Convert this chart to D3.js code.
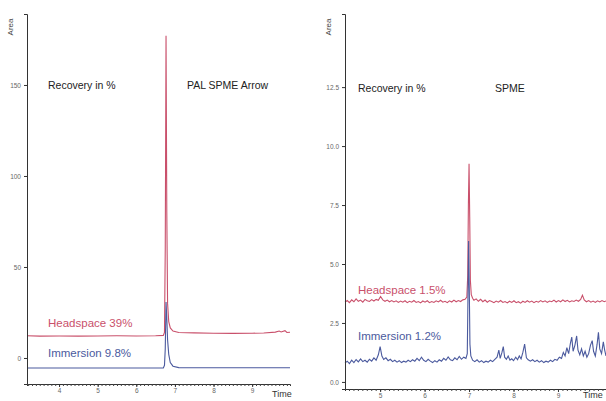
<!DOCTYPE html>
<html><head><meta charset="utf-8">
<script src="https://cdn.jsdelivr.net/npm/d3@7"></script>
<style>body{margin:0;background:#fff}svg{display:block}text{font-family:"Liberation Sans",Arial,sans-serif}</style>
</head><body><svg id="c" width="606" height="401"></svg>
<script>
// ---- data ----
const leftYTicks = [0, 50, 100, 150];
const leftXTicks = [4, 5, 6, 7, 8, 9];
const rightYTicks = [0, 2.5, 5, 7.5, 10, 12.5];
const rightXTicks = [5, 6, 7, 8, 9];
const rightYTickLabels = ["0.0","2.5","5.0","7.5","10.0","12.5"];

const leftHeadspace = [[3.17,12.2],[3.5,12.0],[4.0,12.1],[4.5,12.0],[5.0,12.1],[5.5,12.2],[6.0,12.1],[6.5,12.2],[6.70,12.4],[6.73,14],[6.75,60],[6.77,177],[6.79,80],[6.81,30],[6.84,20],[6.88,16.5],[6.95,14.8],[7.1,14.0],[7.5,13.8],[8.0,13.6],[8.5,13.5],[9.0,13.6],[9.3,13.7],[9.6,14.2],[9.7,14.8],[9.75,14.3],[9.85,15.0],[9.9,14.0],[9.98,14.1]];
const leftImmersion = [[3.17,-5.5],[6.70,-5.5],[6.73,-4],[6.75,5],[6.77,30.8],[6.79,22],[6.81,10],[6.84,2],[6.88,-2.5],[6.95,-4.5],[7.1,-5.3],[9.98,-5.4]];

const rightHeadspace = [[4.21,3.38],[4.26,3.45],[4.31,3.36],[4.36,3.48],[4.41,3.40],[4.46,3.52],[4.51,3.42],[4.56,3.47],[4.61,3.38],[4.66,3.50],[4.71,3.44],[4.76,3.41],[4.81,3.49],[4.86,3.43],[4.91,3.50],[4.96,3.46],[5.01,3.62],[5.06,3.48],[5.11,3.42],[5.16,3.47],[5.21,3.40],[5.26,3.45],[5.31,3.39],[5.36,3.44],[5.41,3.37],[5.46,3.43],[5.51,3.38],[5.56,3.44],[5.61,3.36],[5.66,3.42],[5.71,3.38],[5.76,3.45],[5.81,3.37],[5.86,3.41],[5.91,3.35],[5.96,3.43],[6.01,3.38],[6.06,3.44],[6.11,3.36],[6.16,3.41],[6.21,3.37],[6.26,3.44],[6.31,3.39],[6.36,3.46],[6.41,3.38],[6.46,3.42],[6.51,3.36],[6.56,3.44],[6.61,3.39],[6.66,3.47],[6.71,3.40],[6.76,3.45],[6.81,3.41],[6.86,3.48],[6.91,3.50],[6.95,3.60],[6.97,4.5],[6.985,7.5],[7.00,9.25],[7.015,7.0],[7.03,4.3],[7.05,3.70],[7.08,3.55],[7.11,3.46],[7.16,3.52],[7.21,3.42],[7.26,3.50],[7.31,3.40],[7.36,3.47],[7.41,3.38],[7.46,3.45],[7.51,3.41],[7.56,3.36],[7.61,3.43],[7.66,3.38],[7.71,3.45],[7.76,3.37],[7.81,3.41],[7.86,3.35],[7.91,3.42],[7.96,3.37],[8.01,3.44],[8.06,3.36],[8.11,3.40],[8.16,3.34],[8.21,3.42],[8.26,3.37],[8.31,3.44],[8.36,3.38],[8.41,3.43],[8.46,3.36],[8.51,3.42],[8.56,3.38],[8.61,3.45],[8.66,3.39],[8.71,3.44],[8.76,3.37],[8.81,3.43],[8.86,3.40],[8.91,3.47],[8.96,3.39],[9.01,3.45],[9.06,3.40],[9.11,3.48],[9.16,3.41],[9.21,3.46],[9.26,3.39],[9.31,3.44],[9.36,3.41],[9.41,3.47],[9.46,3.42],[9.51,3.50],[9.55,3.68],[9.59,3.48],[9.64,3.40],[9.69,3.45],[9.74,3.38],[9.79,3.43],[9.84,3.37],[9.89,3.44],[9.94,3.39],[9.99,3.45],[10.04,3.40],[10.08,3.43]];
const rightImmersion = [[4.21,0.80],[4.26,0.88],[4.31,0.78],[4.36,0.92],[4.41,0.82],[4.46,0.95],[4.51,0.85],[4.56,0.98],[4.61,0.86],[4.66,0.92],[4.71,0.84],[4.76,0.96],[4.81,0.88],[4.86,1.02],[4.91,0.92],[4.96,1.15],[5.00,1.50],[5.04,1.10],[5.08,0.95],[5.13,1.02],[5.18,0.90],[5.23,0.96],[5.28,0.86],[5.33,0.92],[5.38,0.84],[5.43,0.90],[5.48,0.82],[5.53,0.88],[5.58,0.84],[5.63,0.92],[5.68,0.86],[5.73,0.94],[5.78,0.88],[5.83,1.00],[5.88,0.90],[5.93,1.05],[5.98,0.92],[6.03,0.86],[6.08,0.96],[6.13,0.88],[6.18,0.82],[6.23,0.90],[6.28,0.84],[6.33,0.94],[6.38,0.88],[6.43,1.00],[6.48,0.92],[6.53,1.06],[6.58,0.94],[6.63,0.90],[6.68,1.02],[6.73,0.94],[6.78,1.08],[6.83,0.96],[6.88,1.05],[6.93,1.00],[6.96,1.20],[6.975,3.5],[6.99,5.97],[7.005,4.0],[7.02,1.6],[7.04,1.10],[7.08,0.92],[7.13,0.86],[7.18,0.94],[7.23,0.84],[7.28,0.90],[7.33,0.82],[7.38,0.88],[7.43,0.84],[7.48,0.92],[7.53,0.86],[7.58,0.96],[7.63,1.05],[7.67,1.35],[7.70,1.00],[7.74,1.25],[7.77,1.50],[7.80,1.05],[7.84,0.96],[7.88,1.10],[7.92,0.92],[7.96,0.98],[8.00,0.90],[8.05,1.05],[8.09,0.94],[8.13,1.10],[8.17,0.98],[8.21,1.25],[8.25,1.60],[8.29,1.02],[8.33,0.94],[8.38,0.88],[8.43,0.94],[8.48,0.86],[8.53,0.92],[8.58,0.84],[8.63,0.90],[8.68,0.82],[8.73,0.88],[8.78,0.84],[8.83,0.92],[8.88,0.86],[8.93,0.96],[8.98,0.92],[9.03,1.05],[9.08,1.00],[9.12,1.25],[9.16,1.10],[9.20,1.45],[9.24,1.20],[9.28,1.65],[9.31,1.90],[9.34,1.30],[9.38,1.55],[9.42,1.95],[9.45,1.35],[9.49,1.15],[9.53,1.40],[9.57,1.10],[9.61,1.30],[9.65,1.05],[9.69,1.20],[9.73,1.55],[9.77,1.75],[9.80,1.30],[9.84,1.10],[9.88,1.60],[9.91,2.10],[9.94,1.40],[9.98,1.20],[10.02,1.70],[10.05,1.35],[10.08,1.10]];

const leftTexts = {title:"Recovery in %", method:"PAL SPME Arrow", hs:"Headspace 39%", im:"Immersion 9.8%"};
const rightTexts = {title:"Recovery in %", method:"SPME", hs:"Headspace 1.5%", im:"Immersion 1.2%"};

// ---- drawing ----
const svg = d3.select("#c");
const RED = "#c9506b", BLUE = "#4b5a9e";

function panel(o){
  const g = svg.append("g");
  const x = d3.scaleLinear().domain(o.xd).range([o.x0, o.x1]);
  const y = d3.scaleLinear().domain(o.yd).range([o.yb, o.yt]);
  const line = d3.line().x(d=>x(d[0])).y(d=>y(d[1]));
  g.append("path").datum(o.hs).attr("d", line).attr("fill","none").attr("stroke",RED).attr("stroke-width",1.1);
  g.append("path").datum(o.im).attr("d", line).attr("fill","none").attr("stroke",BLUE).attr("stroke-width",1.1);
  const ya = g.append("g").attr("transform",`translate(${o.x0},0)`)
    .call(d3.axisLeft(y).tickValues(o.yt_).tickSize(3).tickFormat((d,i)=>o.ylab? o.ylab[i] : d));
  ya.select(".domain").attr("stroke","#333");
  ya.selectAll(".tick line").attr("stroke","#333");
  ya.selectAll(".tick text").attr("fill","#666").style("font-size","6.5px");
  const minor = d3.range(Math.ceil(o.xd[0]*10), Math.floor(o.xd[1]*10)+1).map(v=>v/10);
  const xm = g.append("g").attr("transform",`translate(0,${o.yb})`)
    .call(d3.axisBottom(x).tickValues(minor).tickSize(2).tickFormat(""));
  xm.select(".domain").attr("stroke","#333");
  xm.selectAll(".tick line").attr("stroke","#444");
  const xa = g.append("g").attr("transform",`translate(0,${o.yb})`)
    .call(d3.axisBottom(x).tickValues(o.xt).tickSize(3).tickPadding(1.5).tickFormat(d3.format("d")));
  xa.select(".domain").remove();
  xa.selectAll(".tick line").attr("stroke","#333");
  xa.selectAll(".tick text").attr("fill","#666").style("font-size","6.5px");
  g.append("text").attr("transform",`translate(${o.x0-14},${o.yt+13}) rotate(-90)`)
    .attr("text-anchor","middle").style("font-size","8px").attr("fill","#444").text("Area");
  g.append("text").attr("x",o.timeX).attr("y",o.timeY).style("font-size","9px").attr("fill","#333").text("Time");
  const t = o.txt;
  g.append("text").attr("x",o.tx).attr("y",o.ty).style("font-size","10.5px").attr("fill","#222").text(t.title);
  g.append("text").attr("x",o.mx).attr("y",o.ty).style("font-size","10.5px").attr("fill","#222").text(t.method);
  g.append("text").attr("x",o.tx).attr("y",o.hy).style("font-size","11.5px").attr("fill",RED).text(t.hs);
  g.append("text").attr("x",o.tx).attr("y",o.iy).style("font-size","11.5px").attr("fill",BLUE).text(t.im);
}

panel({xd:[3.17,9.98], x0:27, x1:290, yd:[-14.3,189], yb:384, yt:14,
  yt_:leftYTicks, xt:leftXTicks, hs:leftHeadspace, im:leftImmersion, txt:leftTexts,
  tx:48, mx:187, ty:89, hy:327, iy:357, timeX:272, timeY:397});
panel({xd:[4.21,10.08], x0:345, x1:606, yd:[-0.3,15.6], yb:389, yt:14,
  yt_:rightYTicks, ylab:rightYTickLabels, xt:rightXTicks, hs:rightHeadspace, im:rightImmersion, txt:rightTexts,
  tx:358, mx:495, ty:92, hy:294, iy:340, timeX:583, timeY:398});
</script></body></html>
